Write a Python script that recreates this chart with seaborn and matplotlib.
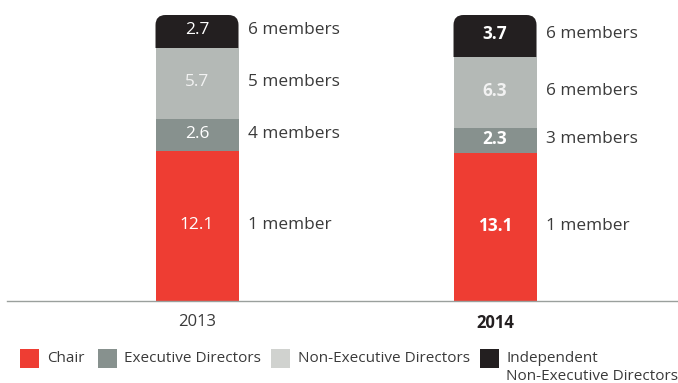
import matplotlib
matplotlib.use("Agg")
import matplotlib.pyplot as plt
from matplotlib.patches import FancyBboxPatch, Rectangle
import numpy as np
import pandas as pd
import seaborn as sns

# Board remuneration split by role (values shown on each segment)
years = ["2013", "2014"]
chair = [12.1, 13.1]
executive = [2.6, 2.3]
non_executive = [5.7, 6.3]
independent = [2.7, 3.7]

chair_members = ["1 member", "1 member"]
executive_members = ["4 members", "3 members"]
non_executive_members = ["5 members", "6 members"]
independent_members = ["6 members", "6 members"]

roles = ["Chair", "Executive Directors", "Non-Executive Directors",
         "Independent", "Non-Executive Directors"]
bar_colors = ["#EE3D33", "#87918E", "#B4B9B6", "#231F20"]
legend_colors = ["#EE3D33", "#87918E", "#D0D2CF", "#231F20"]

sns.set_theme(style="white")
plt.rcParams["font.family"] = ["Open Sans", "DejaVu Sans"]

W, H = 678, 383
fig = plt.figure(figsize=(W / 100, H / 100), dpi=100)
ax_l, ax_r, ax_t, ax_b = 7, 678, 15, 301
ax = fig.add_axes([ax_l / W, 1 - ax_b / H, (ax_r - ax_l) / W, (ax_b - ax_t) / H])

# Each bar is drawn as shares of its own total, so both columns reach the same height
values = np.array([chair, executive, non_executive, independent], dtype=float)
totals = values.sum(axis=0)
shares = values / totals
cum = np.cumsum(shares, axis=0)
bottoms = cum - shares

x_lo, x_hi = -0.6376, 1.614
px_per_x = (ax_r - ax_l) / (x_hi - x_lo)
px_per_y = (ax_b - ax_t) / 1.0
bar_w = 83 / px_per_x
r = 10 / px_per_x
aspect = px_per_x / px_per_y

# Stack the segments: draw each role, then lift its bars onto the ones below
for level in range(4):
    df = pd.DataFrame({"year": years, "share": shares[level]})
    n_before = len(ax.patches)
    sns.barplot(data=df, x="year", y="share", color=bar_colors[level],
                saturation=1, width=bar_w, ax=ax, linewidth=0, edgecolor="none")
    new = list(ax.patches[n_before:])
    for i, p in enumerate(new):
        if level < 3:
            p.set_y(bottoms[level, i])
        else:
            # Top segment: rounded upper corners, square lower corners (clipped)
            x0, w = p.get_x(), p.get_width()
            p.remove()
            y0 = bottoms[level, i] - 2 * r * aspect
            box = FancyBboxPatch((x0, y0), w, cum[level, i] - y0,
                                 boxstyle=f"round,pad=0,rounding_size={r}",
                                 mutation_aspect=aspect,
                                 facecolor=bar_colors[3], edgecolor="none",
                                 linewidth=0)
            ax.add_patch(box)
            clip = Rectangle((x0 - 0.05, bottoms[level, i]), w + 0.1, 0.5,
                             transform=ax.transData)
            box.set_clip_path(clip)

ax.set_xlim(x_lo, x_hi)
ax.set_ylim(0, 1.0)

# Segment values and member counts
member_labels = [chair_members, executive_members, non_executive_members, independent_members]
value_colors = ["white", "white", "#F2F2F2", "white"]
lift = 1.5 / px_per_y
for i, yr in enumerate(years):
    weight = "bold" if yr == "2014" else "normal"
    for level in range(4):
        mid = cum[level, i] - shares[level, i] / 2 + lift
        ax.text(i, mid, f"{values[level, i]:.1f}", ha="center", va="center",
                color=value_colors[level], fontsize=12.4, fontweight=weight, zorder=5)
        ax.text(i + bar_w / 2 + 9 / px_per_x, mid, member_labels[level][i],
                ha="left", va="center", color="#3A3A3A", fontsize=12.4, zorder=5)

# Axis styling
for s in ["left", "right", "top"]:
    ax.spines[s].set_visible(False)
ax.spines["bottom"].set_color("#9AA09D")
ax.spines["bottom"].set_linewidth(1.0)
ax.spines["bottom"].set_zorder(3)
ax.set_yticks([])
ax.set_xlabel("")
ax.set_ylabel("")
ax.tick_params(axis="x", length=0, pad=9, labelsize=12, labelcolor="#3A3A3A")
for lbl in ax.get_xticklabels():
    if lbl.get_text() == "2014":
        lbl.set_fontweight("bold")
        lbl.set_color("#231F20")

# Legend row
sw_x = [20, 98, 271, 480]
txt_x = [47, 124, 298, 506, 506]
txt_y = [358, 358, 358, 358, 377]
sw_top, sw_size = 349, 19
for k in range(4):
    fig.patches.append(Rectangle((sw_x[k] / W, 1 - (sw_top + sw_size) / H),
                                 sw_size / W, sw_size / H,
                                 transform=fig.transFigure, facecolor=legend_colors[k],
                                 edgecolor="none"))
for k in range(5):
    fig.text(txt_x[k] / W, 1 - txt_y[k] / H, roles[k],
             ha="left", va="center", fontsize=11, color="#3A3A3A")

fig.savefig("out.png", dpi=100)
